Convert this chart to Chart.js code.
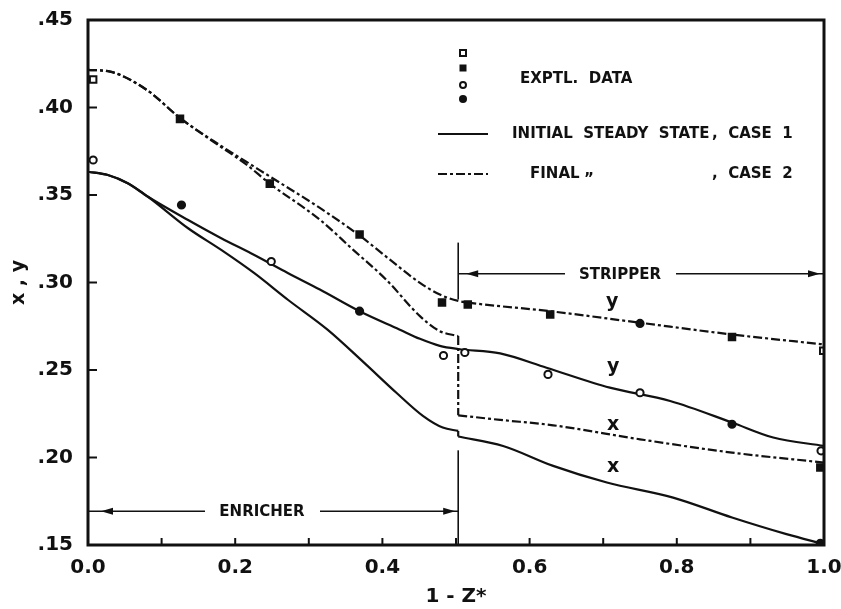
<!DOCTYPE html>
<html>
<head>
<meta charset="utf-8">
<script src="https://cdn.jsdelivr.net/npm/chart.js@4.4.1/dist/chart.umd.min.js"></script>
<style>
  html, body { margin: 0; padding: 0; background: #fff; }
</style>
</head>
<body>
<canvas id="chart" width="841" height="609"></canvas>
<script>
// 1 - Z* positions and mole fractions
// case 2 (final state, dash-dot)
const c2yX = [0, 0.03, 0.08, 0.125, 0.17, 0.215, 0.247, 0.315, 0.369, 0.405, 0.451, 0.478, 0.503, 0.519, 0.628, 0.75, 0.875, 1.0];
const c2yV = [0.4215, 0.4205, 0.410, 0.394, 0.381, 0.369, 0.3606, 0.3426, 0.3268, 0.3148, 0.2998, 0.2931, 0.2895, 0.2884, 0.2836, 0.277, 0.2703, 0.2646];
const c2xEnrX = [0, 0.03, 0.08, 0.125, 0.17, 0.215, 0.247, 0.315, 0.36, 0.405, 0.451, 0.478, 0.503];
const c2xEnrV = [0.4215, 0.4205, 0.410, 0.394, 0.3805, 0.3675, 0.3565, 0.3359, 0.3188, 0.3017, 0.2808, 0.2722, 0.2694];
const c2xStrX = [0.503, 0.56, 0.632, 0.75, 0.875, 1.0];
const c2xStrV = [0.2241, 0.2215, 0.2184, 0.2104, 0.2028, 0.1971];

// case 1 (initial steady state, solid)
const c1yX = [0, 0.027, 0.054, 0.0815, 0.136, 0.181, 0.226, 0.272, 0.315, 0.369, 0.423, 0.451, 0.478, 0.503, 0.56, 0.623, 0.709, 0.791, 0.875, 0.931, 1.0];
const c1yV = [0.3633, 0.3614, 0.3567, 0.349, 0.3357, 0.3253, 0.3157, 0.3053, 0.296, 0.2836, 0.2732, 0.2678, 0.2638, 0.262, 0.2595, 0.2513, 0.2399, 0.2323, 0.22, 0.2114, 0.2066];
const c1xEnrX = [0, 0.027, 0.054, 0.0815, 0.136, 0.181, 0.226, 0.272, 0.325, 0.375, 0.419, 0.455, 0.482, 0.503];
const c1xEnrV = [0.3633, 0.3614, 0.3567, 0.349, 0.331, 0.3186, 0.3053, 0.29, 0.2732, 0.2542, 0.237, 0.2238, 0.2171, 0.2152];
const c1xStrX = [0.503, 0.564, 0.632, 0.705, 0.795, 0.875, 0.949, 1.0];
const c1xStrV = [0.212, 0.2066, 0.1952, 0.1857, 0.1771, 0.1657, 0.1562, 0.1505];

// feed stage break
const breakX = [0.503, 0.503];
const c2JumpV = [0.2694, 0.2241];
const c1StepV = [0.2152, 0.212];

// experimental data
const openSquareX = [0.007, 0.999];
const openSquareV = [0.416, 0.261];
const filledSquareX = [0.125, 0.247, 0.369, 0.481, 0.516, 0.628, 0.875, 0.995];
const filledSquareV = [0.3935, 0.3565, 0.3274, 0.2886, 0.2874, 0.2817, 0.2688, 0.1943];
const openCircleX = [0.007, 0.249, 0.483, 0.512, 0.625, 0.75, 0.996];
const openCircleV = [0.370, 0.312, 0.2583, 0.260, 0.2475, 0.237, 0.2038];
const filledCircleX = [0.127, 0.369, 0.75, 0.875, 0.995];
const filledCircleV = [0.3443, 0.2836, 0.2766, 0.219, 0.151];

const ink = "#111";
const dashDot = [9, 3, 3, 3];
const fontFam = "'DejaVu Sans', 'Liberation Sans', sans-serif";

const pts = (xs, vs) => xs.map((x, i) => ({ x: x, y: vs[i] }));

function curve(xs, vs, dashed, straight) {
    return {
        data: pts(xs, vs),
        showLine: true,
        pointRadius: 0,
        borderColor: ink,
        borderWidth: 2.2,
        borderDash: dashed ? dashDot : [],
        cubicInterpolationMode: straight ? "default" : "monotone",
        tension: 0,
        fill: false,
        order: 2,
    };
}

function marks(xs, vs, style, filled) {
    return {
        data: pts(xs, vs),
        showLine: false,
        pointStyle: style,
        pointRadius: style === "rect" ? 4.6 : 3.6,
        pointBorderWidth: 2,
        pointBorderColor: ink,
        pointBackgroundColor: filled ? ink : "#fff",
        order: 1,
    };
}

function arrowHead(ctx, tipX, y, dir) {
    ctx.beginPath();
    ctx.moveTo(tipX, y);
    ctx.lineTo(tipX - dir * 12, y - 3.5);
    ctx.lineTo(tipX - dir * 12, y + 3.5);
    ctx.closePath();
    ctx.fill();
}

function hline(ctx, x1, x2, y) {
    ctx.beginPath();
    ctx.moveTo(x1, y);
    ctx.lineTo(x2, y);
    ctx.stroke();
}

function vline(ctx, x, y1, y2) {
    ctx.beginPath();
    ctx.moveTo(x, y1);
    ctx.lineTo(x, y2);
    ctx.stroke();
}

const notes = {
    id: "notes",
    afterDraw(chart) {
        const ctx = chart.ctx;
        const { left, top, right, bottom } = chart.chartArea;
        const xs = chart.scales.x;
        const ys = chart.scales.y;
        ctx.save();
        ctx.strokeStyle = ink;
        ctx.fillStyle = ink;

        // frame
        ctx.lineWidth = 3;
        ctx.strokeRect(left, top, right - left, bottom - top);

        // inward ticks
        ctx.lineWidth = 2;
        xs.ticks.forEach((t) => {
            const px = xs.getPixelForValue(t.value);
            vline(ctx, px, bottom, bottom - 7);
        });
        ys.ticks.forEach((t) => {
            const py = ys.getPixelForValue(t.value);
            hline(ctx, left, left + 9, py);
        });

        // enricher / stripper markers
        const xb = xs.getPixelForValue(breakX[0]);
        ctx.lineWidth = 1.6;
        const ey = ys.getPixelForValue(0.1693);
        hline(ctx, left, 205, ey);
        hline(ctx, 320, xb, ey);
        arrowHead(ctx, left + 13, ey, -1);
        arrowHead(ctx, xb - 3, ey, 1);
        vline(ctx, xb, ys.getPixelForValue(0.2041), bottom);

        const sy = ys.getPixelForValue(0.305);
        vline(ctx, xb, ys.getPixelForValue(0.3228), ys.getPixelForValue(0.2903));
        hline(ctx, xb, 565, sy);
        hline(ctx, 676, right, sy);
        arrowHead(ctx, xb + 8, sy, -1);
        arrowHead(ctx, right - 4, sy, 1);

        ctx.font = "bold 15px " + fontFam;
        ctx.textAlign = "center";
        ctx.textBaseline = "middle";
        ctx.fillText("ENRICHER", 262, ey + 1);
        ctx.fillText("STRIPPER", 620, sy + 1);

        // legend
        ctx.lineWidth = 2;
        ctx.fillStyle = "#fff";
        ctx.fillRect(460, 50, 6, 6);
        ctx.strokeRect(460, 50, 6, 6);
        ctx.fillStyle = ink;
        ctx.fillRect(459.5, 64.5, 7, 7);
        ctx.beginPath();
        ctx.arc(463, 85, 3, 0, Math.PI * 2);
        ctx.fillStyle = "#fff";
        ctx.fill();
        ctx.stroke();
        ctx.fillStyle = ink;
        ctx.beginPath();
        ctx.arc(463, 99, 4, 0, Math.PI * 2);
        ctx.fill();

        hline(ctx, 438, 488, 134);
        ctx.setLineDash(dashDot);
        hline(ctx, 438, 488, 174);
        ctx.setLineDash([]);

        ctx.textAlign = "left";
        ctx.font = "bold 15px " + fontFam;
        ctx.fillText("EXPTL.  DATA", 520, 79);
        ctx.fillText("INITIAL  STEADY  STATE", 512, 134);
        ctx.fillText(",  CASE  1", 712, 134);
        ctx.fillText("FINAL", 530, 174);
        ctx.fillText("\u201D", 584, 180);
        ctx.fillText(",  CASE  2", 712, 174);

        // curve labels
        ctx.font = "bold 19px " + fontFam;
        ctx.textBaseline = "alphabetic";
        ctx.fillText("y", 606, 307);
        ctx.fillText("y", 607, 372);
        ctx.fillText("x", 607, 430);
        ctx.fillText("x", 607, 472);
        ctx.restore();
    },
};

Chart.defaults.font.family = fontFam;
Chart.defaults.font.weight = "bold";
Chart.defaults.color = ink;

new Chart(document.getElementById("chart"), {
    type: "scatter",
    data: {
        datasets: [
            marks(openSquareX, openSquareV, "rect", false),
            marks(filledSquareX, filledSquareV, "rect", true),
            marks(openCircleX, openCircleV, "circle", false),
            marks(filledCircleX, filledCircleV, "circle", true),
            curve(c2yX, c2yV, true),
            curve(c2xEnrX, c2xEnrV, true),
            curve(breakX, c2JumpV, true, true),
            curve(c2xStrX, c2xStrV, true),
            curve(c1yX, c1yV, false),
            curve(c1xEnrX, c1xEnrV, false),
            curve(breakX, c1StepV, false, true),
            curve(c1xStrX, c1xStrV, false),
        ],
    },
    options: {
        responsive: false,
        devicePixelRatio: 1,
        animation: false,
        layout: { padding: { left: 0, top: 20, right: 17, bottom: 0 } },
        plugins: {
            legend: { display: false },
            tooltip: { enabled: false },
        },
        scales: {
            x: {
                type: "linear",
                min: 0,
                max: 1,
                grid: { display: false, drawTicks: false },
                border: { display: false },
                ticks: {
                    stepSize: 0.1,
                    autoSkip: false,
                    maxRotation: 0,
                    padding: 11,
                    font: { size: 20, weight: "bold" },
                    callback: (v) => (Math.round(v * 10) % 2 === 0 ? v.toFixed(1) : ""),
                },
                title: {
                    display: true,
                    text: "1 - Z*",
                    font: { size: 20, weight: "bold" },
                    padding: { top: 0, bottom: 0 },
                },
                afterFit: (s) => {
                    s.height = 64;
                    s.paddingLeft = 0;
                    s.paddingRight = 0;
                },
            },
            y: {
                min: 0.15,
                max: 0.45,
                grid: { display: false, drawTicks: false },
                border: { display: false },
                ticks: {
                    stepSize: 0.05,
                    padding: 15,
                    font: { size: 20, weight: "bold" },
                    callback: (v) => "." + String(Math.round(v * 100)).padStart(2, "0"),
                },
                title: {
                    display: true,
                    text: "x , y",
                    font: { size: 19, weight: "bold" },
                    padding: { top: 8, bottom: 0 },
                },
                afterFit: (s) => {
                    s.width = 88;
                    s.paddingTop = 0;
                    s.paddingBottom = 0;
                },
            },
        },
    },
    plugins: [notes],
});
</script>
</body>
</html>
